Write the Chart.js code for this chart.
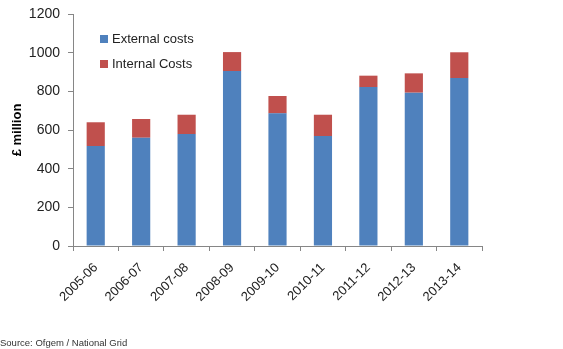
<!DOCTYPE html>
<html>
<head>
<meta charset="utf-8">
<script src="https://cdn.jsdelivr.net/npm/chart.js@4"></script>
<style>
  html, body { margin: 0; padding: 0; background: #fff; }
  #wrap { width: 563px; height: 349px; }
</style>
</head>
<body>
<div id="wrap"><canvas id="myChart" width="563" height="349"></canvas></div>
<script>
// Datos
const years = ['2005-06', '2006-07', '2007-08', '2008-09', '2009-10', '2010-11', '2011-12', '2012-13', '2013-14'];
const externalCosts = [517, 560, 579, 905, 686, 569, 822, 793, 869];
const internalCosts = [123, 97, 100, 98, 90, 110, 59, 100, 133];
const yTicks = [0, 200, 400, 600, 800, 1000, 1200];

const font = 'Liberation Sans';
const axisGrey = '#868686';

// leyenda dentro del area del grafico
const legendBox = {
  id: 'legendBox',
  afterDraw(chart) {
    const ctx = chart.ctx;
    ctx.save();
    ctx.font = '13px "' + font + '"';
    ctx.textBaseline = 'middle';
    chart.data.datasets.forEach((ds, i) => {
      const y = 39 + i * 25;
      ctx.fillStyle = ds.backgroundColor;
      ctx.fillRect(100, y - 4, 8, 8);
      ctx.fillStyle = '#222';
      ctx.fillText(ds.label, 112, y);
    });
    ctx.restore();
  }
};

// fuente al pie
const sourceNote = {
  id: 'sourceNote',
  afterDraw(chart) {
    const ctx = chart.ctx;
    ctx.save();
    ctx.font = '9.5px "' + font + '"';
    ctx.fillStyle = '#333';
    ctx.textBaseline = 'alphabetic';
    ctx.fillText('Source: Ofgem / National Grid', 0, 346);
    ctx.restore();
  }
};

const ctx = document.getElementById('myChart').getContext('2d');
const myChart = new Chart(ctx, {
  type: 'bar',
  data: {
    labels: years,
    datasets: [
      {
        label: 'External costs',
        data: externalCosts,
        backgroundColor: '#4F81BD'
      },
      {
        label: 'Internal Costs',
        data: internalCosts,
        backgroundColor: '#C0504D'
      }
    ]
  },
  options: {
    responsive: false,
    animation: false,
    layout: { padding: { left: 0, right: 81, top: 14, bottom: 0 } },
    datasets: {
      bar: { categoryPercentage: 1, barPercentage: 0.4 }
    },
    plugins: {
      legend: { display: false },
      tooltip: { enabled: false }
    },
    scales: {
      x: {
        stacked: true,
        afterFit(scale) { scale.height = 103; scale.paddingLeft = 0; scale.paddingRight = 0; },
        border: { color: axisGrey, width: 1 },
        grid: { drawOnChartArea: false, drawTicks: true, tickLength: 5, color: axisGrey, offset: true },
        ticks: {
          minRotation: 45,
          maxRotation: 45,
          padding: 9,
          color: '#222',
          font: { family: font, size: 13 }
        }
      },
      y: {
        stacked: true,
        min: 0,
        max: 1200,
        afterFit(scale) { scale.width = 73; scale.paddingTop = 0; scale.paddingBottom = 0; },
        afterBuildTicks(scale) { scale.ticks = yTicks.map(v => ({ value: v })); },
        border: { color: axisGrey, width: 1 },
        grid: { drawOnChartArea: false, drawTicks: true, tickLength: 5, color: axisGrey },
        ticks: {
          padding: 8,
          color: '#222',
          font: { family: font, size: 14 },
          callback: v => String(v)
        },
        title: {
          display: true,
          text: '£ million',
          color: '#000',
          padding: { top: 10, bottom: 0 },
          font: { family: font, size: 13, weight: 'bold' }
        }
      }
    }
  },
  plugins: [legendBox, sourceNote]
});
</script>
</body>
</html>
